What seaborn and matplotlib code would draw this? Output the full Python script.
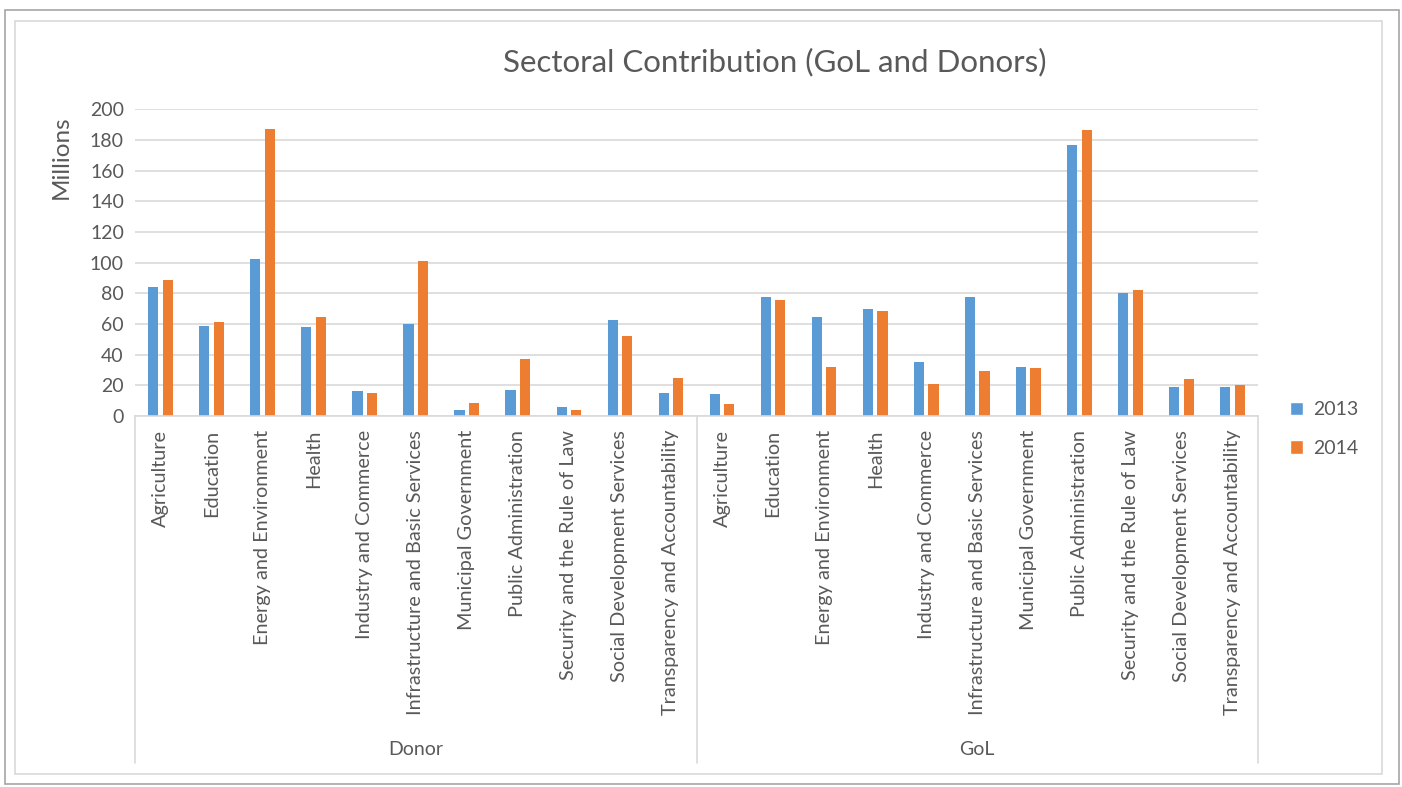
import matplotlib
matplotlib.use("Agg")
import matplotlib.pyplot as plt
from matplotlib.patches import Rectangle, Patch
from matplotlib.lines import Line2D
import seaborn as sns
import pandas as pd

# Sector names (same list for both funding sources)
sectors = [
    "Agriculture", "Education", "Energy and Environment", "Health",
    "Industry and Commerce", "Infrastructure and Basic Services",
    "Municipal Government", "Public Administration",
    "Security and the Rule of Law", "Social Development Services",
    "Transparency and Accountability",
]
sources = ["Donor", "GoL"]
years = ["2013", "2014"]

# Contributions in millions
donor_2013 = [84.1, 58.9, 102.2, 57.8, 16.3, 59.8, 3.9, 17.2, 5.9, 62.6, 15.2]
donor_2014 = [88.9, 61.5, 187.2, 64.3, 15.2, 101.1, 8.5, 37.2, 3.9, 52.2, 24.8]
gol_2013 = [14.3, 77.6, 64.3, 70.0, 35.0, 77.6, 32.2, 176.7, 80.4, 19.1, 19.1]
gol_2014 = [7.8, 75.7, 32.2, 68.3, 20.9, 29.3, 31.3, 186.3, 82.2, 23.9, 20.0]

yticks = [0, 20, 40, 60, 80, 100, 120, 140, 160, 180, 200]

BLUE = "#5B9BD5"
ORANGE = "#ED7D31"
TEXT = "#595959"
GRID = "#D9D9D9"

rows = []
for src, v13, v14 in [("Donor", donor_2013, donor_2014), ("GoL", gol_2013, gol_2014)]:
    for sec, a, b in zip(sectors, v13, v14):
        key = f"{src}|{sec}"
        rows.append({"key": key, "source": src, "sector": sec, "year": "2013", "value": a})
        rows.append({"key": key, "source": src, "sector": sec, "year": "2014", "value": b})
df = pd.DataFrame(rows)
order = [f"{s}|{sec}" for s in sources for sec in sectors]

sns.set_theme(style="white")
plt.rcParams["font.family"] = ["Lato", "DejaVu Sans"]

fig = plt.figure(figsize=(14.02, 7.87), dpi=100)
W, H = 1402, 787
ax = fig.add_axes([135 / W, 1 - 416 / H, (1258 - 135) / W, (416 - 109.5) / H])

sns.barplot(
    data=df, x="key", y="value", hue="year", order=order, hue_order=years,
    palette=[BLUE, ORANGE], saturation=1, width=0.57, gap=0.3, linewidth=0,
    errorbar=None, ax=ax, legend=False,
)

ax.set_ylim(0, 200)
ax.set_xlim(-0.5, len(order) - 0.5)
ax.set_yticks(yticks)
ax.set_yticklabels([str(t) for t in yticks], color=TEXT, fontsize=14)
ax.yaxis.grid(True, color=GRID, linewidth=1.2)
ax.set_axisbelow(True)
for side in ["top", "right", "left"]:
    ax.spines[side].set_visible(False)
ax.spines["bottom"].set_color(GRID)
ax.spines["bottom"].set_linewidth(1.2)
ax.tick_params(axis="y", length=0, pad=8)
ax.tick_params(axis="x", length=0, pad=10)

ax.set_xticks(range(len(order)))
ax.set_xticklabels([k.split("|")[1] for k in order], rotation=90,
                   color=TEXT, fontsize=14.3, va="top", ha="center")
ax.set_xlabel("")

ax.set_ylabel("Millions", color=TEXT, fontsize=17.5)
ax.yaxis.set_label_coords(-0.056, 0.843)

# Group separators and group labels of the two-level category axis
sep_bottom = (416 - 763) / (416 - 109.5)
for xpos in [-0.5, len(sectors) - 0.5, len(order) - 0.5]:
    ax.add_line(Line2D([xpos, xpos], [0, sep_bottom], color=GRID, linewidth=1.2,
                       transform=ax.get_xaxis_transform(), clip_on=False))
label_y = (416 - 749) / (416 - 109.5)
for i, src in enumerate(sources):
    center = i * len(sectors) + (len(sectors) - 1) / 2
    ax.text(center, label_y, src, transform=ax.get_xaxis_transform(),
            ha="center", va="center", color=TEXT, fontsize=14)

fig.text(775 / W, 1 - 62 / H, "Sectoral Contribution (GoL and Donors)",
         ha="center", va="center", color=TEXT, fontsize=22.5)

handles = [Patch(facecolor=BLUE, label="2013"), Patch(facecolor=ORANGE, label="2014")]
leg = fig.legend(handles=handles, loc="center left", bbox_to_anchor=(1272 / W, 1 - 429 / H),
                 frameon=False, fontsize=14, handlelength=0.7, handleheight=0.7,
                 handletextpad=0.5, labelspacing=1.1)
for t in leg.get_texts():
    t.set_color(TEXT)

# Chart frames
fig.add_artist(Rectangle((5 / W, 1 - 784 / H), (1399 - 5) / W, (784 - 10) / H,
                         transform=fig.transFigure, fill=False, edgecolor="#A6A6A6", linewidth=1.2))
fig.add_artist(Rectangle((15 / W, 1 - 774 / H), (1382 - 15) / W, (774 - 21) / H,
                         transform=fig.transFigure, fill=False, edgecolor=GRID, linewidth=1.2))

fig.savefig("out.png", dpi=100, facecolor="white")
